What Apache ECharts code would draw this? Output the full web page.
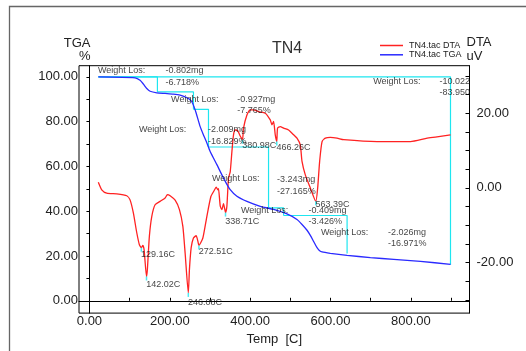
<!DOCTYPE html>
<html>
<head>
<meta charset="utf-8">
<script src="https://cdn.jsdelivr.net/npm/echarts@6/dist/echarts.min.js"></script>
<style>
  html, body { margin: 0; padding: 0; background: #fff; }
  #chart { width: 526px; height: 351px; }
</style>
</head>
<body>
<div id="chart"></div>
<script>
// DTA trace (temperature in C, signal in uV)
const dtaTemp = [22.1, 30.6, 43.0, 68.0, 92.9, 101.1, 109.3, 117.8, 124.3, 129.16, 132.8, 136.0, 142.02, 144.2, 149.2, 155.2, 163.4, 175.9, 188.4, 194.1, 200.8, 213.3, 224.0, 232.5, 238.2, 246.08, 248.9, 253.2, 258.9, 265.6, 270.0, 272.51, 282.3, 292.3, 302.3, 310.5, 315.5, 319.7, 321.2, 325.6, 329.7, 333.7, 338.71, 342.1, 346.1, 350.4, 354.6, 358.6, 362.8, 369.1, 375.3, 380.98, 383.5, 392.0, 400.2, 408.4, 420.9, 437.6, 450.1, 454.3, 458.3, 462.5, 466.26, 468.3, 475.0, 483.2, 495.7, 508.2, 516.6, 524.8, 529.1, 537.3, 549.8, 563.39, 568.1, 573.0, 579.0, 587.2, 599.6, 616.3, 632.8, 716.0, 799.0, 840.7, 898.7];
const dtaValue = [1.5, -0.5, -1.4, -1.6, -2.1, -3.2, -6.7, -12.0, -15.2, -16.0, -15.4, -16.5, -23.7, -21.8, -12.9, -7.6, -4.5, -3.6, -2.7, -1.8, -2.1, -3.3, -5.8, -10.3, -17.5, -28.1, -21.8, -16.0, -13.4, -12.8, -14.3, -15.4, -13.4, -7.6, -2.3, -0.7, 0.2, -0.5, -0.2, -4.9, -5.8, -4.2, -6.6, -4.9, 2.6, 4.3, 9.7, 14.2, 15.5, 15.3, 13.9, 12.9, 16.0, 19.5, 20.9, 20.9, 20.4, 20.0, 18.2, 16.9, 17.8, 14.2, 12.4, 16.0, 16.4, 16.0, 15.5, 14.2, 13.3, 11.5, 7.1, 3.5, 0.0, -3.6, 0.0, 7.1, 12.4, 13.3, 13.5, 13.3, 12.9, 12.4, 12.4, 13.3, 14.2];

// TGA trace (temperature in C, remaining mass in %)
const tgaTemp = [22.1, 113.6, 126.0, 134.3, 142.7, 151.0, 167.7, 188.4, 209.0, 225.7, 238.2, 248.2, 254.9, 260.6, 265.6, 275.6, 283.8, 292.3, 300.5, 317.2, 333.7, 350.4, 367.1, 392.0, 425.1, 458.3, 491.7, 516.6, 529.1, 541.6, 549.8, 558.0, 566.5, 572.2, 579.0, 599.6, 641.3, 699.3, 757.4, 823.9, 898.7];
const tgaValue = [100.0, 99.6, 98.5, 96.8, 94.8, 93.6, 92.9, 92.6, 92.3, 91.9, 91.1, 90.1, 88.9, 86.5, 83.9, 77.8, 74.1, 70.5, 66.7, 60.8, 54.8, 49.6, 46.7, 44.4, 42.2, 40.8, 38.8, 36.3, 34.1, 31.5, 29.2, 26.5, 23.7, 22.5, 21.8, 21.2, 20.3, 19.3, 18.5, 17.6, 16.3];

// Weight-loss steps
const stepStartTemp = 22.1;
const stepEndTemp = [169.2, 258.9, 296.3, 445.8, 483.2, 641.3];
const lossMg = [-0.802, -0.927, -2.009, -3.243, -0.409, -2.026];
const lossPct = [-6.718, -7.765, -16.829, -27.165, -3.426, -16.971];
const totalEndTemp = 898.7;
const totalMg = -10.022;
const totalPct = -83.950;

// DTA peak temperatures and their signal
const peakTemp = [129.16, 142.02, 246.08, 272.51, 338.71, 380.98, 466.26, 563.39];
const peakDta = [-16.0, -23.7, -28.1, -15.4, -6.6, 12.9, 12.4, -3.6];

// Axis tick labels
const tempTicks = [0, 200, 400, 600, 800];
const tgaTicks = [0, 20, 40, 60, 80, 100];
const dtaTicks = [-20, 0, 20];

// Where each step's annotation sits: [caption T, caption %, value T, value %]
const stepNoteAt = [
  [21, 102.8, 189, 102.8],
  [203, 90.1, 368, 90.0],
  [123, 76.3, 295, 76.3],
  [305, 54.5, 467, 54.1],
  [377, 40.3, 545, 40.3],
  [576, 30.7, 743, 30.7]
];
const totalNoteAt = [706, 97.9, 871, 97.9];
const lineGap = 5.1;
// Vertical drop of each peak label below its marker, px
const peakLabelDrop = [5, 6.5, 7.5, 4, 7, 3.7, 4.3, 1];

const FONT = 'Liberation Sans, Arial, sans-serif';
const RED = '#ff2222';
const BLUE = '#2a2aff';
const CYAN = '#1ee6f0';

const zip = (a, b) => a.map((v, i) => [v, b[i]]);

// Cyan staircase for the individual steps
const stepPath = [];
let level = 100;
let from = stepStartTemp;
lossPct.forEach((p, i) => {
  stepPath.push([from, level], [stepEndTemp[i], level]);
  level = level + p;
  stepPath.push([stepEndTemp[i], level]);
  stepPath.push(null);
  from = stepEndTemp[i];
});
const totalPath = [[stepStartTemp, 100], [totalEndTemp, 100], [totalEndTemp, 100 + totalPct]];

const notes = [];
stepNoteAt.forEach((p, i) => {
  notes.push([p[0], p[1], 'Weight Los:']);
  notes.push([p[2], p[3], lossMg[i].toFixed(3) + 'mg']);
  notes.push([p[2], p[3] - lineGap, lossPct[i].toFixed(3) + '%']);
});
notes.push([totalNoteAt[0], totalNoteAt[1], 'Weight Los:']);
notes.push([totalNoteAt[2], totalNoteAt[3], totalMg.toFixed(3)]);
notes.push([totalNoteAt[2], totalNoteAt[3] - lineGap, totalPct.toFixed(3)]);

const peakPoints = peakTemp.map((t, i) => ({
  value: [t, peakDta[i]],
  label: { offset: [-1, peakLabelDrop[i]] }
}));

const range = (a, b, s) => { const r = []; for (let v = a; v <= b + 1e-9; v += s) r.push(v); return r; };

const chart = echarts.init(document.getElementById('chart'), null, { renderer: 'canvas' });
chart.setOption({
  animation: false,
  backgroundColor: '#fff',
  textStyle: { fontFamily: FONT },
  title: {
    text: 'TN4', left: 272, top: 41, padding: 0,
    textStyle: { fontSize: 16, fontWeight: 'normal', color: '#333', fontFamily: FONT }
  },
  legend: {
    data: ['TN4.tac DTA', 'TN4.tac TGA'],
    orient: 'vertical', left: 380, top: 41, padding: 0,
    icon: 'rect', itemWidth: 23, itemHeight: 1.5, itemGap: 0.3,
    textStyle: { fontSize: 9, lineHeight: 9, color: '#222', padding: [0, 0, 0, 1] }
  },
  graphic: [{
    type: 'rect', silent: true, z: -1,
    shape: { x: 9.5, y: 6.5, width: 700, height: 500 },
    style: { fill: 'none', stroke: '#666', lineWidth: 1.3 }
  }],
  grid: { left: 79, right: 56.5, top: 65.7, bottom: 37, show: true, borderColor: '#000', borderWidth: 1, backgroundColor: 'transparent' },
  xAxis: {
    type: 'value', min: -26, max: 946,
    name: 'Temp  [C]', nameLocation: 'middle', nameGap: 15,
    nameTextStyle: { fontSize: 13, color: '#222' },
    axisLine: { lineStyle: { color: '#000', width: 1 } },
    axisTick: { customValues: range(0, 900, 100), inside: true, length: 3, lineStyle: { color: '#000' } },
    axisLabel: { customValues: tempTicks, formatter: v => v.toFixed(2), fontSize: 13, color: '#222', margin: 2 },
    splitLine: { show: false }
  },
  yAxis: [{
    type: 'value', min: -5.5, max: 105, position: 'left',
    name: 'TGA\n%', nameLocation: 'end', nameGap: 2,
    nameTextStyle: { fontSize: 13, lineHeight: 13.7, align: 'right', color: '#222', padding: [0, -1, 0, 0] },
    axisLine: { show: true, lineStyle: { color: '#000', width: 1 } },
    axisTick: { customValues: range(0, 100, 10), length: 3, lineStyle: { color: '#000' } },
    axisLabel: { customValues: tgaTicks, formatter: v => v.toFixed(2), fontSize: 13, color: '#222', margin: 1 },
    splitLine: { show: false }
  }, {
    type: 'value', min: -33.5, max: 32.7, position: 'right',
    name: 'DTA\nuV', nameLocation: 'end', nameGap: 3,
    nameTextStyle: { fontSize: 13, lineHeight: 13.4, align: 'left', color: '#222', padding: [0, 0, 0, -3] },
    axisLine: { show: true, lineStyle: { color: '#000', width: 1 } },
    axisTick: { customValues: range(-30, 30, 5), inside: true, length: 4, lineStyle: { color: '#000' } },
    axisLabel: { customValues: dtaTicks, formatter: v => v.toFixed(2), fontSize: 13, color: '#222', margin: 7 },
    splitLine: { show: false }
  }],
  series: [{
    name: 'TN4.tac DTA', type: 'line', yAxisIndex: 1, symbol: 'none', smooth: 0.2,
    data: zip(dtaTemp, dtaValue), color: RED,
    lineStyle: { color: RED, width: 1.3 }, z: 3
  }, {
    name: 'TN4.tac TGA', type: 'line', yAxisIndex: 0, symbol: 'none', smooth: 0.2,
    data: zip(tgaTemp, tgaValue), color: BLUE,
    lineStyle: { color: BLUE, width: 1.3 }, z: 3
  }, {
    name: 'steps', type: 'line', yAxisIndex: 0, symbol: 'none', connectNulls: false,
    data: stepPath, lineStyle: { color: CYAN, width: 1.2 }, z: 2
  }, {
    name: 'total', type: 'line', yAxisIndex: 0, symbol: 'none',
    data: totalPath, lineStyle: { color: CYAN, width: 1.2 }, z: 2
  }, {
    name: 'peaks', type: 'scatter', yAxisIndex: 1,
    symbol: 'rect', symbolSize: [1.5, 4], symbolOffset: [0, 2],
    itemStyle: { color: CYAN },
    data: peakPoints,
    label: {
      show: true, position: 'right', distance: 0,
      formatter: p => p.value[0].toFixed(2) + 'C',
      fontSize: 9, color: '#111'
    }, z: 4
  }, {
    name: 'notes', type: 'scatter', yAxisIndex: 0,
    symbolSize: 0.1, itemStyle: { color: 'transparent' },
    data: notes,
    label: {
      show: true, position: 'right', distance: 0,
      formatter: p => p.data[2],
      fontSize: 9, color: '#111'
    }, z: 5
  }]
});
</script>
</body>
</html>
